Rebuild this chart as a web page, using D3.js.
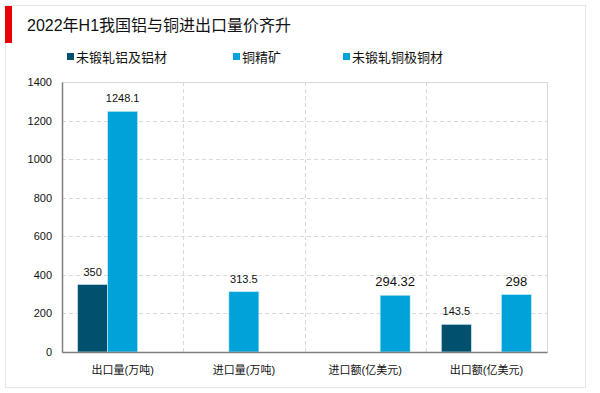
<html>
<style>
body { margin: 0; background: #fff; font-family: "Liberation Sans", "Noto Sans CJK SC", sans-serif; }
</style>
<svg width="600" height="393"></svg>
<script src="https://d3js.org/d3.v7.min.js"></script>
<script>

var categories = ["出口量(万吨)", "进口量(万吨)", "进口额(亿美元)", "出口额(亿美元)"];
var seriesNames = ["未锻轧铝及铝材", "铜精矿", "未锻轧铜极铜材"];
var colors = ["#00506e", "#00a3d9", "#00a3d9"];
// null = no bar in that category
var aluminium = [350, null, null, 143.5];
var copperOre = [1248.1, 313.5, null, null];
var copperCathode = [null, null, 294.32, 298];
var yTicks = [0, 200, 400, 600, 800, 1000, 1200, 1400];

var values = [aluminium, copperOre, copperCathode];

var svg = d3.select("svg"),
    margin = {top: 82, right: 53, bottom: 41, left: 62},
    width = +svg.attr("width") - margin.left - margin.right,
    height = +svg.attr("height") - margin.top - margin.bottom;

// outer frame + title
svg.append("rect")
    .attr("x", 5.5).attr("y", 5.5).attr("width", 580).attr("height", 382)
    .attr("fill", "#fff").attr("stroke", "#e6e6e6");
svg.append("rect")
    .attr("x", 5).attr("y", 6).attr("width", 7).attr("height", 37)
    .attr("fill", "#e8000b");
svg.append("text")
    .attr("x", 27).attr("y", 31)
    .attr("font-size", 16).attr("fill", "#111")
    .text("2022年H1我国铝与铜进出口量价齐升");

var g = svg.append("g").attr("transform", "translate(" + margin.left + "," + margin.top + ")");

var x0 = d3.scaleBand().domain(categories).range([0, width]).paddingInner(0).paddingOuter(0);
var x1 = d3.scaleBand().domain(d3.range(seriesNames.length))
    .range([0, x0.bandwidth()]).paddingOuter(0.52).paddingInner(0);
var y = d3.scaleLinear().domain([0, 1400]).range([height, 0]);

// plot box
g.append("rect")
    .attr("x", 0.5).attr("y", 0.5).attr("width", width).attr("height", height)
    .attr("fill", "none").attr("stroke", "#d9d9d9");

// horizontal grid
g.append("g")
  .selectAll("line")
  .data(yTicks.filter(function(d) { return d > 0 && d < 1400; }))
  .enter().append("line")
    .attr("x1", 0).attr("x2", width)
    .attr("y1", function(d) { return Math.round(y(d)) + 0.5; })
    .attr("y2", function(d) { return Math.round(y(d)) + 0.5; })
    .attr("stroke", "#d9d9d9").attr("stroke-dasharray", "4,3");

// vertical dividers between categories
g.append("g")
  .selectAll("line")
  .data(categories.slice(1))
  .enter().append("line")
    .attr("x1", function(d) { return Math.round(x0(d)) + 0.5; })
    .attr("x2", function(d) { return Math.round(x0(d)) + 0.5; })
    .attr("y1", 0).attr("y2", height)
    .attr("stroke", "#d9d9d9").attr("stroke-dasharray", "4,3");

// bars
var bars = [];
values.forEach(function(arr, s) {
  arr.forEach(function(v, i) {
    if (v != null) bars.push({s: s, cat: categories[i], v: v});
  });
});

g.append("g")
  .selectAll("rect")
  .data(bars)
  .enter().append("rect")
    .attr("x", function(d) { return x0(d.cat) + x1(d.s); })
    .attr("y", function(d) { return y(d.v); })
    .attr("width", x1.bandwidth())
    .attr("height", function(d) { return height - y(d.v); })
    .attr("fill", function(d) { return colors[d.s]; })
    .attr("stroke", "#cdeef8").attr("stroke-width", 0.6);

g.append("g")
  .selectAll("text")
  .data(bars)
  .enter().append("text")
    .attr("x", function(d) { return x0(d.cat) + x1(d.s) + x1.bandwidth() / 2; })
    .attr("y", function(d) { return y(d.v) - 9; })
    .attr("text-anchor", "middle")
    .attr("font-size", function(d) { return d.s === 2 ? 13 : 11; })
    .attr("fill", "#111")
    .text(function(d) { return d.v; });

// y axis
var yAxis = g.append("g")
    .call(d3.axisLeft(y).tickValues(yTicks).tickFormat(d3.format("d")).tickSize(0).tickPadding(10));
yAxis.select(".domain").attr("stroke", "#7f7f7f").attr("stroke-width", 1.5);
yAxis.selectAll("text").attr("font-size", 11).attr("fill", "#111")
    .attr("font-family", "Liberation Sans, sans-serif");

// x axis
var xAxis = g.append("g")
    .attr("transform", "translate(0," + height + ")")
    .call(d3.axisBottom(x0).tickSize(0).tickPadding(14));
xAxis.select(".domain").attr("stroke", "#7f7f7f").attr("stroke-width", 1.5);
xAxis.selectAll("text").attr("font-size", 11).attr("fill", "#111")
    .attr("font-family", "Liberation Sans, Noto Sans CJK SC, sans-serif");

// legend
var legendX = [67, 233, 343];
var legend = svg.append("g")
  .selectAll("g")
  .data(seriesNames)
  .enter().append("g")
    .attr("transform", function(d, i) { return "translate(" + legendX[i] + ",57)"; });
legend.append("rect")
    .attr("x", 0).attr("y", -4).attr("width", 7).attr("height", 7)
    .attr("fill", function(d, i) { return colors[i]; });
legend.append("text")
    .attr("x", 9).attr("y", 5)
    .attr("font-size", 13).attr("fill", "#111")
    .text(function(d) { return d; });

</script>
</html>
